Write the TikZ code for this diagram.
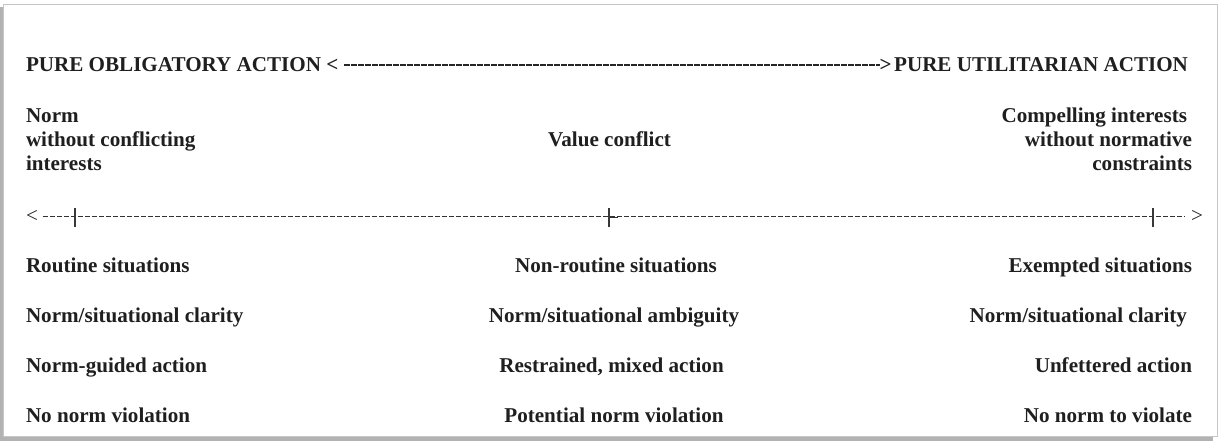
\documentclass[tikz,border=0pt]{standalone}
\usepackage{fontspec}
\setmainfont{Liberation Serif}
\tikzset{
  lbl/.style={inner sep=0pt, outer sep=0pt, font=\fontsize{21.1}{24}\selectfont\bfseries, text=black!88},
  arr/.style={inner sep=0pt, outer sep=0pt, font=\fontsize{21.1}{24}\selectfont, text=black!85},
  tdash/.style={line width=1.8pt, dash pattern=on 5.2pt off 1.8pt, draw=black!85},
  rdash/.style={line width=1.5pt, dash pattern=on 5pt off 2pt, draw=black!80},
  tickline/.style={line width=1.5pt, draw=black!78},
}
\begin{document}
\begin{tikzpicture}[x=1pt,y=-1pt]
\useasboundingbox (0,0) rectangle (1221,441);
\fill[white] (0,0) rectangle (1221,441);
% frame with shadow
\fill[gray!60] (0,7) rectangle (1213,441);
\filldraw[fill=white, draw=gray!45, line width=1pt] (3.5,4.5) rectangle (1217.5,436.5);

% title line
\node[lbl, anchor=base west] (tl) at (26,72) {PURE OBLIGATORY ACTION};
\node[lbl, anchor=base west] (tlarr) at ([xshift=5.3pt]tl.base east) {<};
\node[lbl, anchor=base east] (tr) at (1188,72) {PURE UTILITARIAN ACTION};
\node[lbl, anchor=base east] (trarr) at ([xshift=-2.5pt]tr.base west) {>};
\draw[tdash] ([xshift=6pt,yshift=1pt]tlarr.east) -- ([yshift=1pt]trarr.west);

% upper labels (base anchor = last line)
\node[lbl, anchor=base west, align=left] (normfree) at (26,171) {Norm\\without conflicting\\interests};
\node[lbl, anchor=base] (valconf) at (609.5,147) {Value conflict};
\node[lbl, anchor=base east, align=right] (compel) at (1192,171) {Compelling interests\kern5pt\\without normative\\constraints};

% ruler
\node[arr, anchor=base west] (rl) at (26,222.5) {<};
\node[arr, anchor=base east] (rr) at (1203,222.5) {>};
\draw[rdash] ([xshift=5pt]rl.east) -- ([xshift=-6pt]rr.west);
\coordinate (t1) at (75,217.5);
\coordinate (t2) at (609,217.5);
\coordinate (t3) at (1153,217.5);
\foreach \t in {t1,t2,t3}{
  \draw[tickline] ([yshift=-9.5pt]\t) -- ([yshift=10pt]\t);
}
\draw[line width=1.5pt, draw=black!80] (t2) -- ([xshift=9pt]t2);

% lower rows
\node[lbl, anchor=base west] (l1) at (26,272) {Routine situations};
\node[lbl, anchor=base west] (l2) at (26,322) {Norm/situational clarity};
\node[lbl, anchor=base west] (l3) at (26,372) {Norm-guided action};
\node[lbl, anchor=base west] (l4) at (26,422) {No norm violation};

\node[lbl, anchor=base] (m1) at (616,272) {Non-routine situations};
\node[lbl, anchor=base] (m2) at (614,322) {Norm/situational ambiguity};
\node[lbl, anchor=base] (m3) at (611.5,372) {Restrained, mixed action};
\node[lbl, anchor=base] (m4) at (614,422) {Potential norm violation};

\node[lbl, anchor=base east] (r1) at (1192,272) {Exempted situations};
\node[lbl, anchor=base east] (r2) at (1192,322) {Norm/situational clarity\kern5pt};
\node[lbl, anchor=base east] (r3) at (1192,372) {Unfettered action};
\node[lbl, anchor=base east] (r4) at (1192,422) {No norm to violate};
\end{tikzpicture}
\end{document}
